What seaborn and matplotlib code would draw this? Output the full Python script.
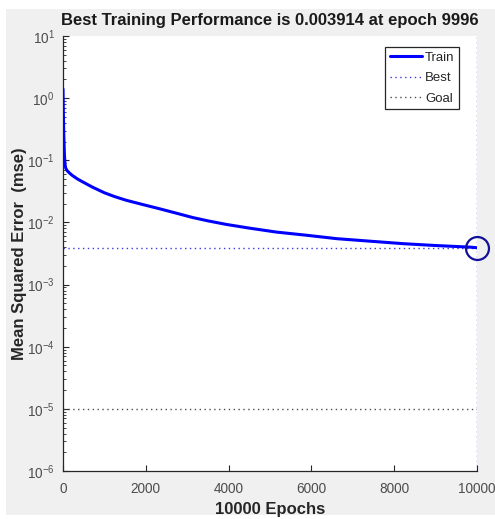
import numpy as np
import pandas as pd
import matplotlib
matplotlib.use("Agg")
import matplotlib.pyplot as plt
from matplotlib.patches import Rectangle
from matplotlib.ticker import LogLocator, FixedLocator
import seaborn as sns

# ---- data ----
epochs = [0, 8, 20, 35, 50, 65, 100, 160, 225, 350, 500, 710, 1000, 1250, 1520,
          1900, 2330, 2700, 3130, 3500, 3940, 4500, 5150, 5900, 6610, 7400,
          8220, 9000, 9840, 9996]
mse = [1.4, 0.6, 0.24, 0.12, 0.085, 0.075, 0.068, 0.062, 0.057, 0.050, 0.044,
       0.037, 0.030, 0.026, 0.0228, 0.0196, 0.0166, 0.0143, 0.0120, 0.0106,
       0.0093, 0.0081, 0.0070, 0.0062, 0.00548, 0.0050, 0.00455, 0.00425,
       0.0040, 0.003914]
best_epoch = 9996
best_perf = 0.003914
goal = 1e-5
legend_labels = ["Train", "Best", "Goal"]
title_text = "Best Training Performance is 0.003914 at epoch 9996"
xlabel_text = "10000 Epochs"
ylabel_text = "Mean Squared Error  (mse)"
xticks = [0, 2000, 4000, 6000, 8000, 10000]

df = pd.DataFrame({"epoch": epochs, "mse": mse})

sns.set_theme(style="ticks")
plt.rcParams["font.family"] = ["Liberation Sans", "DejaVu Sans"]
plt.rcParams["mathtext.fontset"] = "custom"
plt.rcParams["mathtext.rm"] = "Liberation Sans"
plt.rcParams["mathtext.it"] = "Liberation Sans:italic"
plt.rcParams["mathtext.bf"] = "Liberation Sans:bold"

fig = plt.figure(figsize=(4.95, 5.19), dpi=100, facecolor="white")
fig.patches.append(Rectangle((6 / 495, 1 - 515 / 519), 1 - 6 / 495, (515 - 9) / 519,
                             transform=fig.transFigure, facecolor="#f0f0f0",
                             edgecolor="none", zorder=-10))
ax = fig.add_axes([63 / 495, 1 - 471 / 519, (477 - 63) / 495, (471 - 36) / 519])
ax.set_facecolor("white")

sns.lineplot(data=df, x="epoch", y="mse", ax=ax, color="#0000ff", lw=2.2,
             label=legend_labels[0], zorder=3)
ax.axhline(best_perf, color="#3a3ae0", ls=(0, (1, 2.5)), lw=1.0, label=legend_labels[1])
ax.axvline(best_epoch, color="#3a3ae0", ls=(0, (1, 2.5)), lw=1.0)
ax.axhline(goal, color="#505050", ls=(0, (1, 2.5)), lw=1.0, label=legend_labels[2])
ax.plot([best_epoch], [best_perf], marker="o", ms=16.5, mfc="none", mec="#10109a",
        mew=1.6, ls="none", zorder=4, clip_on=False)

ax.set_yscale("log")
ax.set_xlim(0, 10000)
ax.set_ylim(1e-6, 10)
ax.xaxis.set_major_locator(FixedLocator(xticks))
ax.yaxis.set_major_locator(LogLocator(base=10, numticks=10))
ax.yaxis.set_minor_locator(LogLocator(base=10, subs=np.arange(2, 10), numticks=20))

for s in ["top", "right"]:
    ax.spines[s].set_visible(False)
for s in ["left", "bottom"]:
    ax.spines[s].set_color("#262626")
    ax.spines[s].set_linewidth(0.9)

ax.tick_params(axis="both", which="major", direction="in", length=4, width=0.8,
               colors="#262626", labelcolor="#4d4d4d", labelsize=9.8)
ax.tick_params(axis="y", which="minor", direction="in", length=2.5, width=0.6,
               colors="#262626")
ax.tick_params(axis="x", pad=8)
ax.tick_params(axis="y", pad=6)

ax.set_title(title_text, fontsize=12, fontweight="bold", color="#1a1a1a", pad=8)
ax.set_xlabel(xlabel_text, fontsize=12, fontweight="bold", color="#262626", labelpad=4)
ax.set_ylabel(ylabel_text, fontsize=12, fontweight="bold", color="#262626", labelpad=0)

leg = ax.legend(loc="upper right", bbox_to_anchor=(0.957, 0.975), borderaxespad=0,
                fontsize=9.5, frameon=True, fancybox=False, framealpha=1,
                edgecolor="#262626", handlelength=2.4, borderpad=0.35,
                labelspacing=0.62, handletextpad=0.25)
leg.get_frame().set_linewidth(0.9)
for t in leg.get_texts():
    t.set_color("#262626")

fig.savefig("out.png", dpi=100, facecolor=fig.get_facecolor())
